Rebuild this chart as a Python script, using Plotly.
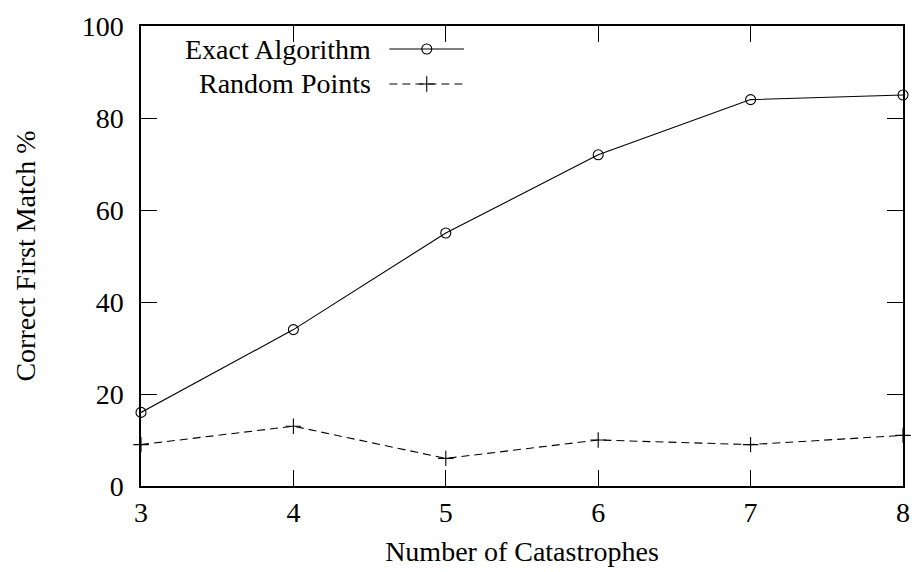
import plotly.graph_objects as go

# Catastrophe counts and match rates
catastrophes = [3, 4, 5, 6, 7, 8]
exact_algorithm = [16, 34, 55, 72, 84, 85]
random_points = [9, 13, 6, 10, 9, 11]
x_ticks = [3, 4, 5, 6, 7, 8]
y_ticks = [0, 20, 40, 60, 80, 100]

FONT = "Liberation Serif, Times New Roman, serif"
FS = 28

fig = go.Figure()
fig.add_trace(go.Scatter(
    x=catastrophes, y=exact_algorithm, mode="lines+markers", name="Exact Algorithm",
    line=dict(color="black", width=1.1),
    marker=dict(symbol="circle-open", size=10, color="black", line=dict(width=1.1)),
    cliponaxis=False, showlegend=False))
fig.add_trace(go.Scatter(
    x=catastrophes, y=random_points, mode="lines+markers", name="Random Points",
    line=dict(color="black", width=1.1, dash="8px,5px"),
    marker=dict(symbol="cross-thin-open", size=11, color="black", line=dict(width=1.1)),
    cliponaxis=False, showlegend=False))

# Legend samples drawn on a helper axis pair (text to the left of the sample)
legend_rows = [("Exact Algorithm", "circle-open", "solid", 0.95),
               ("Random Points", "cross-thin-open", "8px,5px", 0.874)]
for label, sym, dash, ypos in legend_rows:
    fig.add_trace(go.Scatter(
        x=[0.326, 0.375, 0.424], y=[ypos] * 3, xaxis="x2", yaxis="y2",
        mode="lines", line=dict(color="black", width=1.1, dash=dash),
        showlegend=False, hoverinfo="skip"))
    fig.add_trace(go.Scatter(
        x=[0.375], y=[ypos], xaxis="x2", yaxis="y2", mode="markers",
        marker=dict(symbol=sym, size=10 if sym == "circle-open" else 11,
                    color="black", line=dict(width=1.1)),
        showlegend=False, hoverinfo="skip"))
    fig.add_annotation(x=0.305, y=ypos, xref="x2", yref="y2", text=label,
                       showarrow=False, xanchor="right", yanchor="middle",
                       font=dict(family=FONT, size=FS, color="black"))

axis_common = dict(showline=True, linecolor="black", linewidth=1.5, mirror="allticks",
                   ticks="inside", ticklen=16, tickwidth=1, tickcolor="black",
                   showgrid=False, zeroline=False,
                   tickfont=dict(family=FONT, size=FS, color="black"))

fig.update_layout(
    width=919, height=572,
    margin=dict(l=141, r=9, t=26, b=86),
    paper_bgcolor="white", plot_bgcolor="white",
    xaxis=dict(range=[3, 8], tickvals=x_ticks, ticklabelstandoff=1,
               title=dict(text="Number of Catastrophes", standoff=14,
                          font=dict(family=FONT, size=FS, color="black")),
               **axis_common),
    yaxis=dict(range=[0, 100], tickvals=y_ticks, ticklabelstandoff=10,
               title=dict(text="Correct First Match %", standoff=38,
                          font=dict(family=FONT, size=FS, color="black")),
               **axis_common),
    xaxis2=dict(range=[0, 1], overlaying="x", visible=False),
    yaxis2=dict(range=[0, 1], overlaying="y", visible=False),
)

fig.write_html("out.html")
